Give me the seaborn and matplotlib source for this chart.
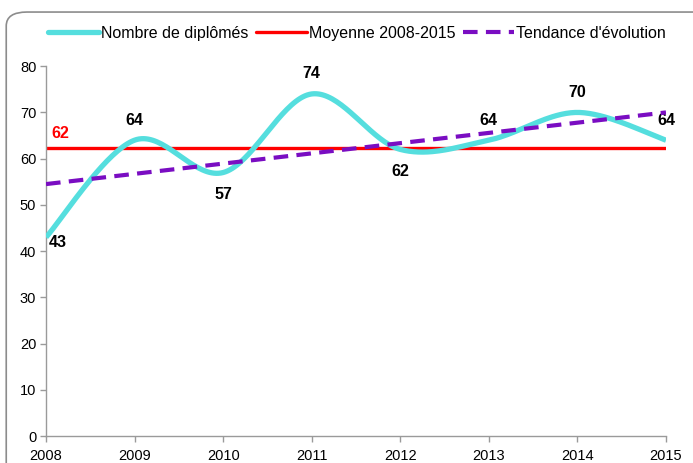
import numpy as np
import pandas as pd
import matplotlib
matplotlib.use("Agg")
import matplotlib.pyplot as plt
from matplotlib.patches import FancyBboxPatch
from matplotlib.lines import Line2D
import seaborn as sns

# data
years = [2008, 2009, 2010, 2011, 2012, 2013, 2014, 2015]
diplomes = [43, 64, 57, 74, 62, 64, 70, 64]
label_pos = ["right", "above", "below", "above", "below", "above", "above", "above"]
legend_labels = ["Nombre de diplômés", "Moyenne 2008-2015", "Tendance d'évolution"]

cyan = "#55DEDE"
red = "#FF0000"
purple = "#7A0DC2"
grey = "#9A9A9A"

sns.set_style("white")
plt.rcParams['font.family'] = ['Liberation Sans', 'DejaVu Sans']
plt.rcParams['text.color'] = "black"


def smooth(xs, ys, n=40):
    # excel-like smoothed line (catmull-rom -> bezier)
    px = [xs[0]] + list(xs) + [xs[-1]]
    py = [ys[0]] + list(ys) + [ys[-1]]
    outx, outy = [], []
    t = np.linspace(0, 1, n)
    for i in range(1, len(px) - 2):
        p0 = np.array([px[i - 1], py[i - 1]], float)
        p1 = np.array([px[i], py[i]], float)
        p2 = np.array([px[i + 1], py[i + 1]], float)
        p3 = np.array([px[i + 2], py[i + 2]], float)
        c1 = p1 + (p2 - p0) / 6
        c2 = p2 - (p3 - p1) / 6
        b = ((1 - t) ** 3)[:, None] * p1 + (3 * (1 - t) ** 2 * t)[:, None] * c1 \
            + (3 * (1 - t) * t ** 2)[:, None] * c2 + (t ** 3)[:, None] * p2
        outx.extend(b[:, 0])
        outy.extend(b[:, 1])
    return outx, outy


sx, sy = smooth(years, diplomes)
curve = pd.DataFrame({"annee": sx, "valeur": sy})

mean_val = np.mean(diplomes)
slope, inter = np.polyfit(years, diplomes, 1)
trend = pd.DataFrame({"annee": [years[0], years[-1]],
                      "valeur": [slope * years[0] + inter, slope * years[-1] + inter]})
moy = pd.DataFrame({"annee": [years[0], years[-1]], "valeur": [mean_val, mean_val]})

fig = plt.figure(figsize=(6.93, 4.63), dpi=100)
ax = fig.add_axes([0.0664, 0.0583, 0.8946, 0.7987])

sns.lineplot(data=curve, x="annee", y="valeur", ax=ax, color=cyan, lw=3.8, sort=False,
             solid_capstyle="butt", zorder=3)
sns.lineplot(data=moy, x="annee", y="valeur", ax=ax, color=red, lw=2.4, zorder=2)
sns.lineplot(data=trend, x="annee", y="valeur", ax=ax, color=purple, lw=3.0,
             dashes=False, zorder=4)
ax.lines[-1].set_dashes([3.5, 2])

for x, y, p in zip(years, diplomes, label_pos):
    if p == "above":
        off = (0, 20)
    elif p == "below":
        off = (0, -22)
    else:
        off = (12, -5)
    ax.annotate(str(y), (x, y), xytext=off, textcoords="offset pixels",
                ha="center", va="center", fontsize=11.5, fontweight="bold", color="black")

ax.annotate(f"{mean_val:.0f}", (years[0], mean_val), xytext=(14, 15), textcoords="offset pixels",
            ha="center", va="center", fontsize=11.5, fontweight="bold", color=red)

ax.set_xlim(years[0], years[-1])
ax.set_ylim(0, 80)
ax.set_xticks(years)
ax.set_yticks(range(0, 81, 10))
ax.set_xlabel("")
ax.set_ylabel("")
ax.tick_params(axis="both", which="both", direction="out", length=4, width=1,
               color=grey, labelcolor="black", labelsize=10.5, pad=3, bottom=True, left=True)
ax.tick_params(axis="x", pad=5)
for s in ["top", "right"]:
    ax.spines[s].set_visible(False)
for s in ["left", "bottom"]:
    ax.spines[s].set_color(grey)
    ax.spines[s].set_linewidth(1)

handles = [Line2D([], [], color=cyan, lw=3.8),
           Line2D([], [], color=red, lw=2.4),
           Line2D([], [], color=purple, lw=3.0, dashes=[3.5, 2])]
fig.legend(handles, legend_labels, loc="center", bbox_to_anchor=(0.515, 0.928), ncol=3,
           frameon=False, fontsize=11.5, handlelength=3.2, handletextpad=0.1,
           columnspacing=0.5, labelcolor="black")

border = FancyBboxPatch((0.009, -0.05), 1.1, 1.024, boxstyle="round,pad=0,rounding_size=0.03",
                        transform=fig.transFigure, fill=False, edgecolor="#8C8C8C", lw=1.2,
                        clip_on=False)
fig.patches.append(border)

fig.savefig("out.png", dpi=100)
